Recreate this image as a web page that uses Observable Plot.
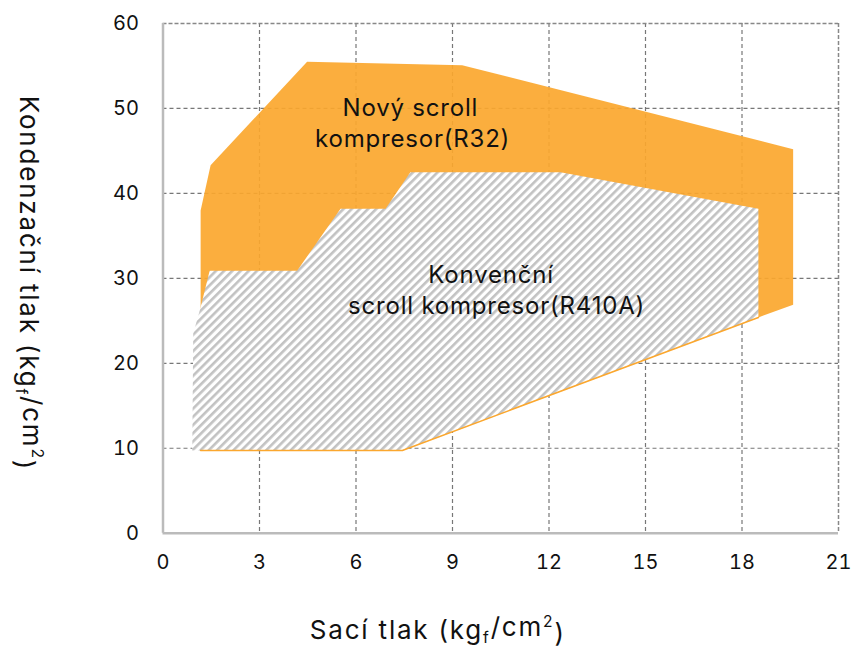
<!DOCTYPE html>
<html>
<head>
<meta charset="utf-8">
<script src="https://cdn.jsdelivr.net/npm/d3@7"></script>
<script src="https://cdn.jsdelivr.net/npm/@observablehq/plot@0.6"></script>
<style>
  html, body { margin: 0; padding: 0; background: #fff; }
  #chart svg { display: block; }
  .lbl text { letter-spacing: 0.8px; }
  .ttl text { letter-spacing: 1.8px; }
</style>
</head>
<body>
<div id="chart"></div>
<script>
// Axis ticks
const xTicks = [0, 3, 6, 9, 12, 15, 18, 21];
const yTicks = [0, 10, 20, 30, 40, 50, 60];

// New scroll compressor (R32) operating envelope: suction x, condensing y
const r32X = [1.17, 1.17, 1.48, 4.48, 9.30, 19.59, 19.59, 18.51, 7.44, 1.17];
const r32Y = [9.74, 37.98, 43.3, 55.5, 55.1, 45.2, 26.9, 25.4, 9.74, 9.74];

// Conventional scroll compressor (R410A) envelope
const r410X = [0.91, 0.94, 1.17, 1.45, 4.17, 5.52, 6.92, 7.69, 12.36, 18.51, 18.51, 7.44, 0.91];
const r410Y = [9.74, 23.5, 26.6, 30.9, 30.9, 38.2, 38.2, 42.5, 42.5, 38.2, 25.4, 9.74, 9.74];

// Lower edge of R32 envelope (visible as thin orange line)
const edgeX = [1.17, 7.44, 18.51];
const edgeY = [9.74, 9.74, 25.4];

// Text labels
const labelLines = ["Nový scroll", "kompresor(R32)", "Konvenční", "scroll kompresor(R410A)"];
const labelX = [7.69, 7.76, 10.2, 10.37];
const labelY = [49.1, 45.45, 29.4, 25.85];

const xTitle = "Sací tlak (kg_f/cm²)";
const yTitle = "Kondenzační tlak (kg_f/cm²)";

const toPts = (xs, ys) => xs.map((x, i) => ({x, y: ys[i]}));
const r32 = toPts(r32X, r32Y);
const r410 = toPts(r410X, r410Y);
const edge = toPts(edgeX, edgeY);
const labels = labelLines.map((t, i) => ({t, x: labelX[i], y: labelY[i]}));

const FONT = "Inter, 'Noto Sans', sans-serif";
const ORANGE = "#FBA72E";

const chart = Plot.plot({
  width: 853,
  height: 649,
  marginLeft: 162.5,
  marginRight: 15,
  marginTop: 23,
  marginBottom: 116.3,
  style: {fontFamily: FONT, fontSize: "20px", color: "#111", background: "#fff"},
  x: {domain: [0, 21], ticks: xTicks, tickSize: 0, tickPadding: 22, label: null},
  y: {domain: [0, 60], ticks: yTicks, tickSize: 0, tickPadding: 24, label: null},
  marks: [
    Plot.gridX(xTicks.filter(d => d > 0 && d < 21), {stroke: "#777", strokeOpacity: 1, strokeWidth: 1.2, strokeDasharray: "4,3"}),
    Plot.gridY(yTicks.filter(d => d > 0 && d < 60), {stroke: "#777", strokeOpacity: 1, strokeWidth: 1.2, strokeDasharray: "4,3"}),
    Plot.ruleY([60], {stroke: "#888", strokeWidth: 1.5, strokeDasharray: "4,2"}),
    Plot.ruleX([21], {stroke: "#888", strokeWidth: 1.5, strokeDasharray: "4,2"}),
    Plot.line(r32, {x: "x", y: "y", curve: "linear-closed", fill: ORANGE, fillOpacity: 0.92, stroke: "none"}),
    Plot.line(r410, {x: "x", y: "y", curve: "linear-closed", fill: "url(#hatch)", stroke: "none"}),
    Plot.line(edge, {x: "x", y: "y", stroke: ORANGE, strokeWidth: 1.6}),
    Plot.ruleX([0], {stroke: "#bbb", strokeWidth: 2.5}),
    Plot.ruleY([0], {stroke: "#bbb", strokeWidth: 2.5}),
    Plot.axisX(xTicks, {tickSize: 0, tickPadding: 22, fontSize: 20, label: null}),
    Plot.axisY(yTicks, {tickSize: 0, tickPadding: 24, fontSize: 20, label: null}),
    Plot.text(labels, {x: "x", y: "y", text: "t", lineAnchor: "bottom", textAnchor: "middle", fontSize: 24, fill: "#111", className: "lbl"}),
    Plot.text([xTitle], {frameAnchor: "bottom", dx: -63, dy: 105.6, textAnchor: "middle", lineAnchor: "bottom", fontSize: 26, fill: "#111", className: "ttl"}),
    Plot.text([yTitle], {frameAnchor: "left", dx: -143, dy: 5, rotate: 90, textAnchor: "middle", lineAnchor: "bottom", fontSize: 26, fill: "#111", className: "ttl"})
  ]
});

// hatch pattern definition
const svg = d3.select(chart);
const defs = svg.insert("defs", ":first-child");
const pat = defs.append("pattern")
  .attr("id", "hatch")
  .attr("patternUnits", "userSpaceOnUse")
  .attr("width", 5.8).attr("height", 5.8)
  .attr("patternTransform", "rotate(45)");
pat.append("rect").attr("width", 5.8).attr("height", 5.8).attr("fill", "#fff");
pat.append("rect").attr("width", 2.6).attr("height", 5.8).attr("fill", "#c2c2c2");

// subscript / superscript formatting for axis titles
svg.selectAll("text").each(function() {
  const el = d3.select(this);
  const txt = el.text();
  if (!txt.includes("kg_f")) return;
  const [a, b] = txt.split("kg_f");
  const [c, d] = b.split("²");
  const tgt = el.select("tspan").empty() ? el : el.select("tspan");
  tgt.text(null);
  tgt.append("tspan").text(a + "kg");
  tgt.append("tspan").attr("font-size", "0.6em").attr("dy", "0.25em").text("f");
  tgt.append("tspan").attr("dy", "-0.25em").text(c);
  tgt.append("tspan").attr("font-size", "0.6em").attr("dy", "-0.6em").text("2");
  tgt.append("tspan").attr("dy", "0.6em").text(d);
});

document.getElementById("chart").appendChild(chart);
</script>
</body>
</html>
